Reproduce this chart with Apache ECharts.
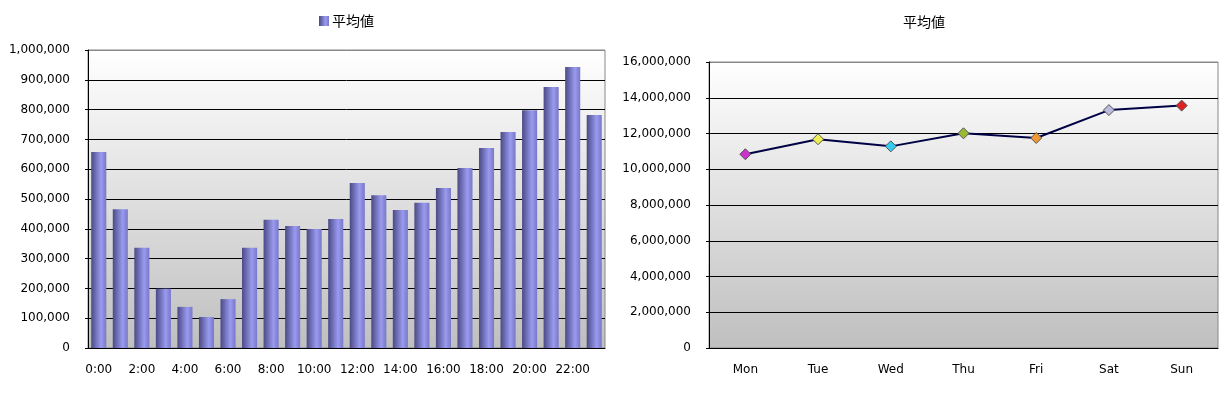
<!DOCTYPE html>
<html><head><meta charset="utf-8">
<script src="https://cdn.jsdelivr.net/npm/echarts@6/dist/echarts.min.js"></script>
<style>html,body{margin:0;padding:0;background:#fff}#c{width:1232px;height:394px}</style>
</head><body><div id="c"></div>
<script>
const hourCategories = ['0:00','1:00','2:00','3:00','4:00','5:00','6:00','7:00','8:00','9:00','10:00','11:00','12:00','13:00','14:00','15:00','16:00','17:00','18:00','19:00','20:00','21:00','22:00','23:00'];
const hourValues = [658000,466000,336000,199000,138000,104000,164000,336000,430000,409000,399000,433000,554000,513000,463000,487000,537000,604000,671000,725000,798000,876000,943000,782000];
const dayCategories = ['Mon','Tue','Wed','Thu','Fri','Sat','Sun'];
const dayValues = [10840000,11680000,11280000,12010000,11750000,13310000,13560000];
const dayMarkerColors = ['#cc33cc','#eeee55','#33ccee','#99bb33','#ee9933','#bbbbdd','#dd2222'];
const seriesName = '平均値';

const font = 'DejaVu Sans';
const barFill = new echarts.graphic.LinearGradient(0,0,1,0,[
  {offset:0,color:'#4a4a85'},{offset:0.65,color:'#9a9af0'},{offset:1,color:'#7878c8'}]);
const plotBg = new echarts.graphic.LinearGradient(0,0,0,1,[
  {offset:0,color:'#ffffff'},{offset:1,color:'#bfbfbf'}]);
const fmt = v => v.toLocaleString('en-US');
const splitColors = n => { const a=[]; for(let i=0;i<n;i++) a.push('#000'); a.push('#888'); return a; };

const chart = echarts.init(document.getElementById('c'), null, {renderer:'canvas'});
chart.setOption({
  animation:false,
  textStyle:{fontFamily:font},
  title:{text:seriesName,left:898,top:10,textStyle:{fontFamily:'Noto Sans CJK JP',fontSize:14,fontWeight:'normal',color:'#000'}},
  legend:{data:[{name:seriesName,icon:'rect',itemStyle:{color:barFill}}],left:314,top:9,itemWidth:10,itemHeight:10,itemGap:5,
    textStyle:{fontFamily:'Noto Sans CJK JP',fontSize:14,color:'#000',padding:[0,0,0,-2]}},
  grid:[
    {left:88,right:627,top:50,bottom:46,show:true,backgroundColor:plotBg,borderColor:'#888',borderWidth:1,containLabel:false},
    {left:709,right:14,top:62,bottom:46,show:true,backgroundColor:plotBg,borderColor:'#888',borderWidth:1,containLabel:false}
  ],
  xAxis:[
    {type:'category',gridIndex:0,data:hourCategories,boundaryGap:true,
     axisLine:{lineStyle:{color:'#000',width:1}},
     axisTick:{inside:true,length:4,interval:0,lineStyle:{color:'#000'}},
     axisLabel:{interval:1,margin:16,fontSize:12,color:'#000',fontFamily:font}},
    {type:'category',gridIndex:1,data:dayCategories,boundaryGap:true,
     axisLine:{lineStyle:{color:'#000',width:1}},
     axisTick:{inside:true,length:5,interval:0,lineStyle:{color:'#000'}},
     axisLabel:{interval:0,margin:16,fontSize:12,color:'#000',fontFamily:font}}
  ],
  yAxis:[
    {type:'value',gridIndex:0,min:0,max:1000000,interval:100000,
     axisLine:{show:true,lineStyle:{color:'#000'}},
     axisTick:{show:true,length:3,lineStyle:{color:'#000'}},
     axisLabel:{formatter:fmt,margin:18,fontSize:12,color:'#000',fontFamily:font},
     splitLine:{show:true,lineStyle:{color:splitColors(10),width:1}}},
    {type:'value',gridIndex:1,min:0,max:16000000,interval:2000000,
     axisLine:{show:true,lineStyle:{color:'#000'}},
     axisTick:{show:true,length:3,lineStyle:{color:'#000'}},
     axisLabel:{formatter:fmt,margin:18,fontSize:12,color:'#000',fontFamily:font},
     splitLine:{show:true,lineStyle:{color:splitColors(8),width:1}}}
  ],
  series:[
    {name:seriesName,type:'bar',xAxisIndex:0,yAxisIndex:0,data:hourValues,barWidth:'70%',
     itemStyle:{color:barFill}},
    {name:'weekday',type:'line',xAxisIndex:1,yAxisIndex:1,
     data:dayValues.map((v,i)=>({value:v,itemStyle:{color:dayMarkerColors[i]}})),
     symbol:'diamond',symbolSize:11,showAllSymbol:true,
     lineStyle:{color:'#000044',width:2},
     itemStyle:{borderColor:'#555',borderWidth:1}}
  ]
});
</script></body></html>
